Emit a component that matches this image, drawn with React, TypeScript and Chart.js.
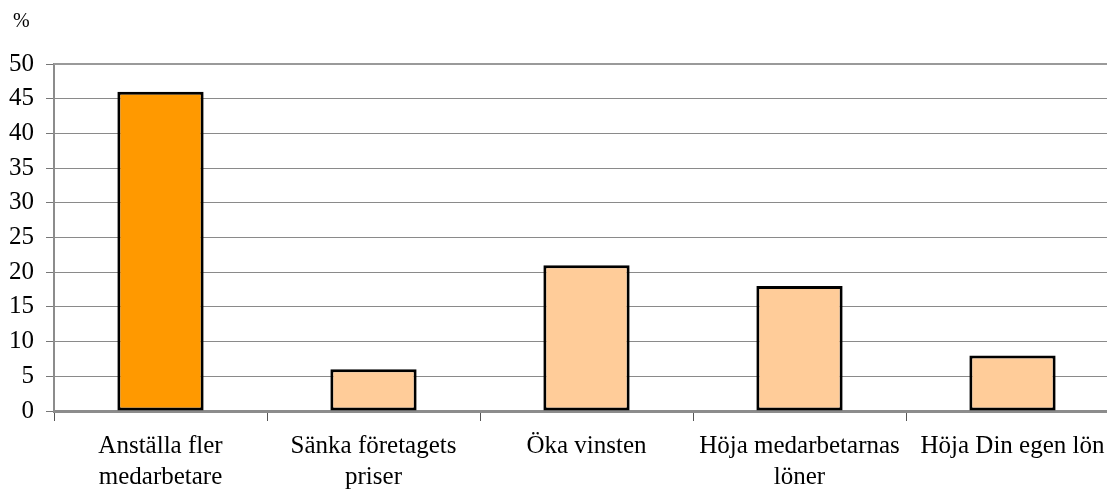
import React, { useEffect, useRef } from "react";
import { Chart, registerables } from "chart.js";

Chart.register(...registerables);

const categories: string[][] = [
  ["Anställa fler", "medarbetare"],
  ["Sänka företagets", "priser"],
  ["Öka vinsten"],
  ["Höja medarbetarnas", "löner"],
  ["Höja Din egen lön"],
];
const values: number[] = [46, 6, 21, 18, 8];
const barColors: string[] = ["#FF9900", "#FFCC99", "#FFCC99", "#FFCC99", "#FFCC99"];
const yUnit = "%";

const CANVAS_W = 1160;
const CANVAS_H = 491;
const LEFT = 54;
const TOP = 64;
const BOTTOM = 411;
const RIGHT = 1119;

const FONT = "'Liberation Serif', 'Times New Roman', serif";

export default function App() {
  const ref = useRef<HTMLCanvasElement | null>(null);
  useEffect(() => {
    document.body.style.margin = "0";
    const ctx = ref.current!;
    const decor = {
      id: "decor",
      beforeDatasetsDraw(chart: any) {
        const c = chart.ctx;
        const a = chart.chartArea;
        c.save();
        c.strokeStyle = "#9a9a9a";
        c.lineWidth = 2;
        c.beginPath();
        c.moveTo(a.left, a.top);
        c.lineTo(a.right, a.top);
        c.stroke();
        c.restore();
      },
      afterDraw(chart: any) {
        const c = chart.ctx;
        c.save();
        c.fillStyle = "#000";
        c.font = `20px ${FONT}`;
        c.textAlign = "left";
        c.textBaseline = "middle";
        c.fillText(yUnit, 13, 22);
        c.restore();
      },
    };
    const chart = new Chart(ctx, {
      type: "bar",
      data: {
        labels: categories,
        datasets: [
          {
            data: values,
            backgroundColor: barColors,
            borderColor: "#000",
            borderWidth: 3,
            borderSkipped: false,
            categoryPercentage: 1,
            barPercentage: 0.405,
          },
        ],
      },
      options: {
        animation: false,
        responsive: false,
        maintainAspectRatio: false,
        layout: {
          padding: { top: TOP, left: 0, right: CANVAS_W - RIGHT, bottom: 0 },
        },
        plugins: {
          legend: { display: false },
          title: { display: false },
          tooltip: { enabled: false },
        },
        scales: {
          x: {
            offset: true,
            grid: {
              offset: true,
              drawOnChartArea: false,
              drawTicks: true,
              tickLength: 10,
              color: "#555",
              lineWidth: 1,
            },
            border: { color: "#8c8c8c", width: 3 },
            ticks: {
              color: "#000",
              font: { family: FONT, size: 25, lineHeight: 1.24 },
              padding: 10,
              maxRotation: 0,
              autoSkip: false,
            },
            afterFit(scale: any) {
              scale.height = CANVAS_H - BOTTOM;
            },
          },
          y: {
            min: 0,
            max: 50,
            ticks: {
              stepSize: 5,
              color: "#000",
              font: { family: FONT, size: 25 },
              padding: 12,
            },
            grid: {
              color: "#8a8a8a",
              lineWidth: 1,
              borderDash: [2, 1],
              tickBorderDash: [],
              tickColor: "#777",
              tickLength: 8,
            },
            border: { color: "#8c8c8c", width: 2 },
            afterFit(scale: any) {
              scale.width = LEFT;
            },
          },
        },
      },
      plugins: [decor],
    });
    return () => chart.destroy();
  }, []);
  return (
    <div style={{ width: 1107, height: 491, overflow: "hidden", position: "relative", background: "#fff" }}>
      <canvas ref={ref} width={CANVAS_W} height={CANVAS_H} style={{ display: "block", width: CANVAS_W, height: CANVAS_H }} />
    </div>
  );
}
